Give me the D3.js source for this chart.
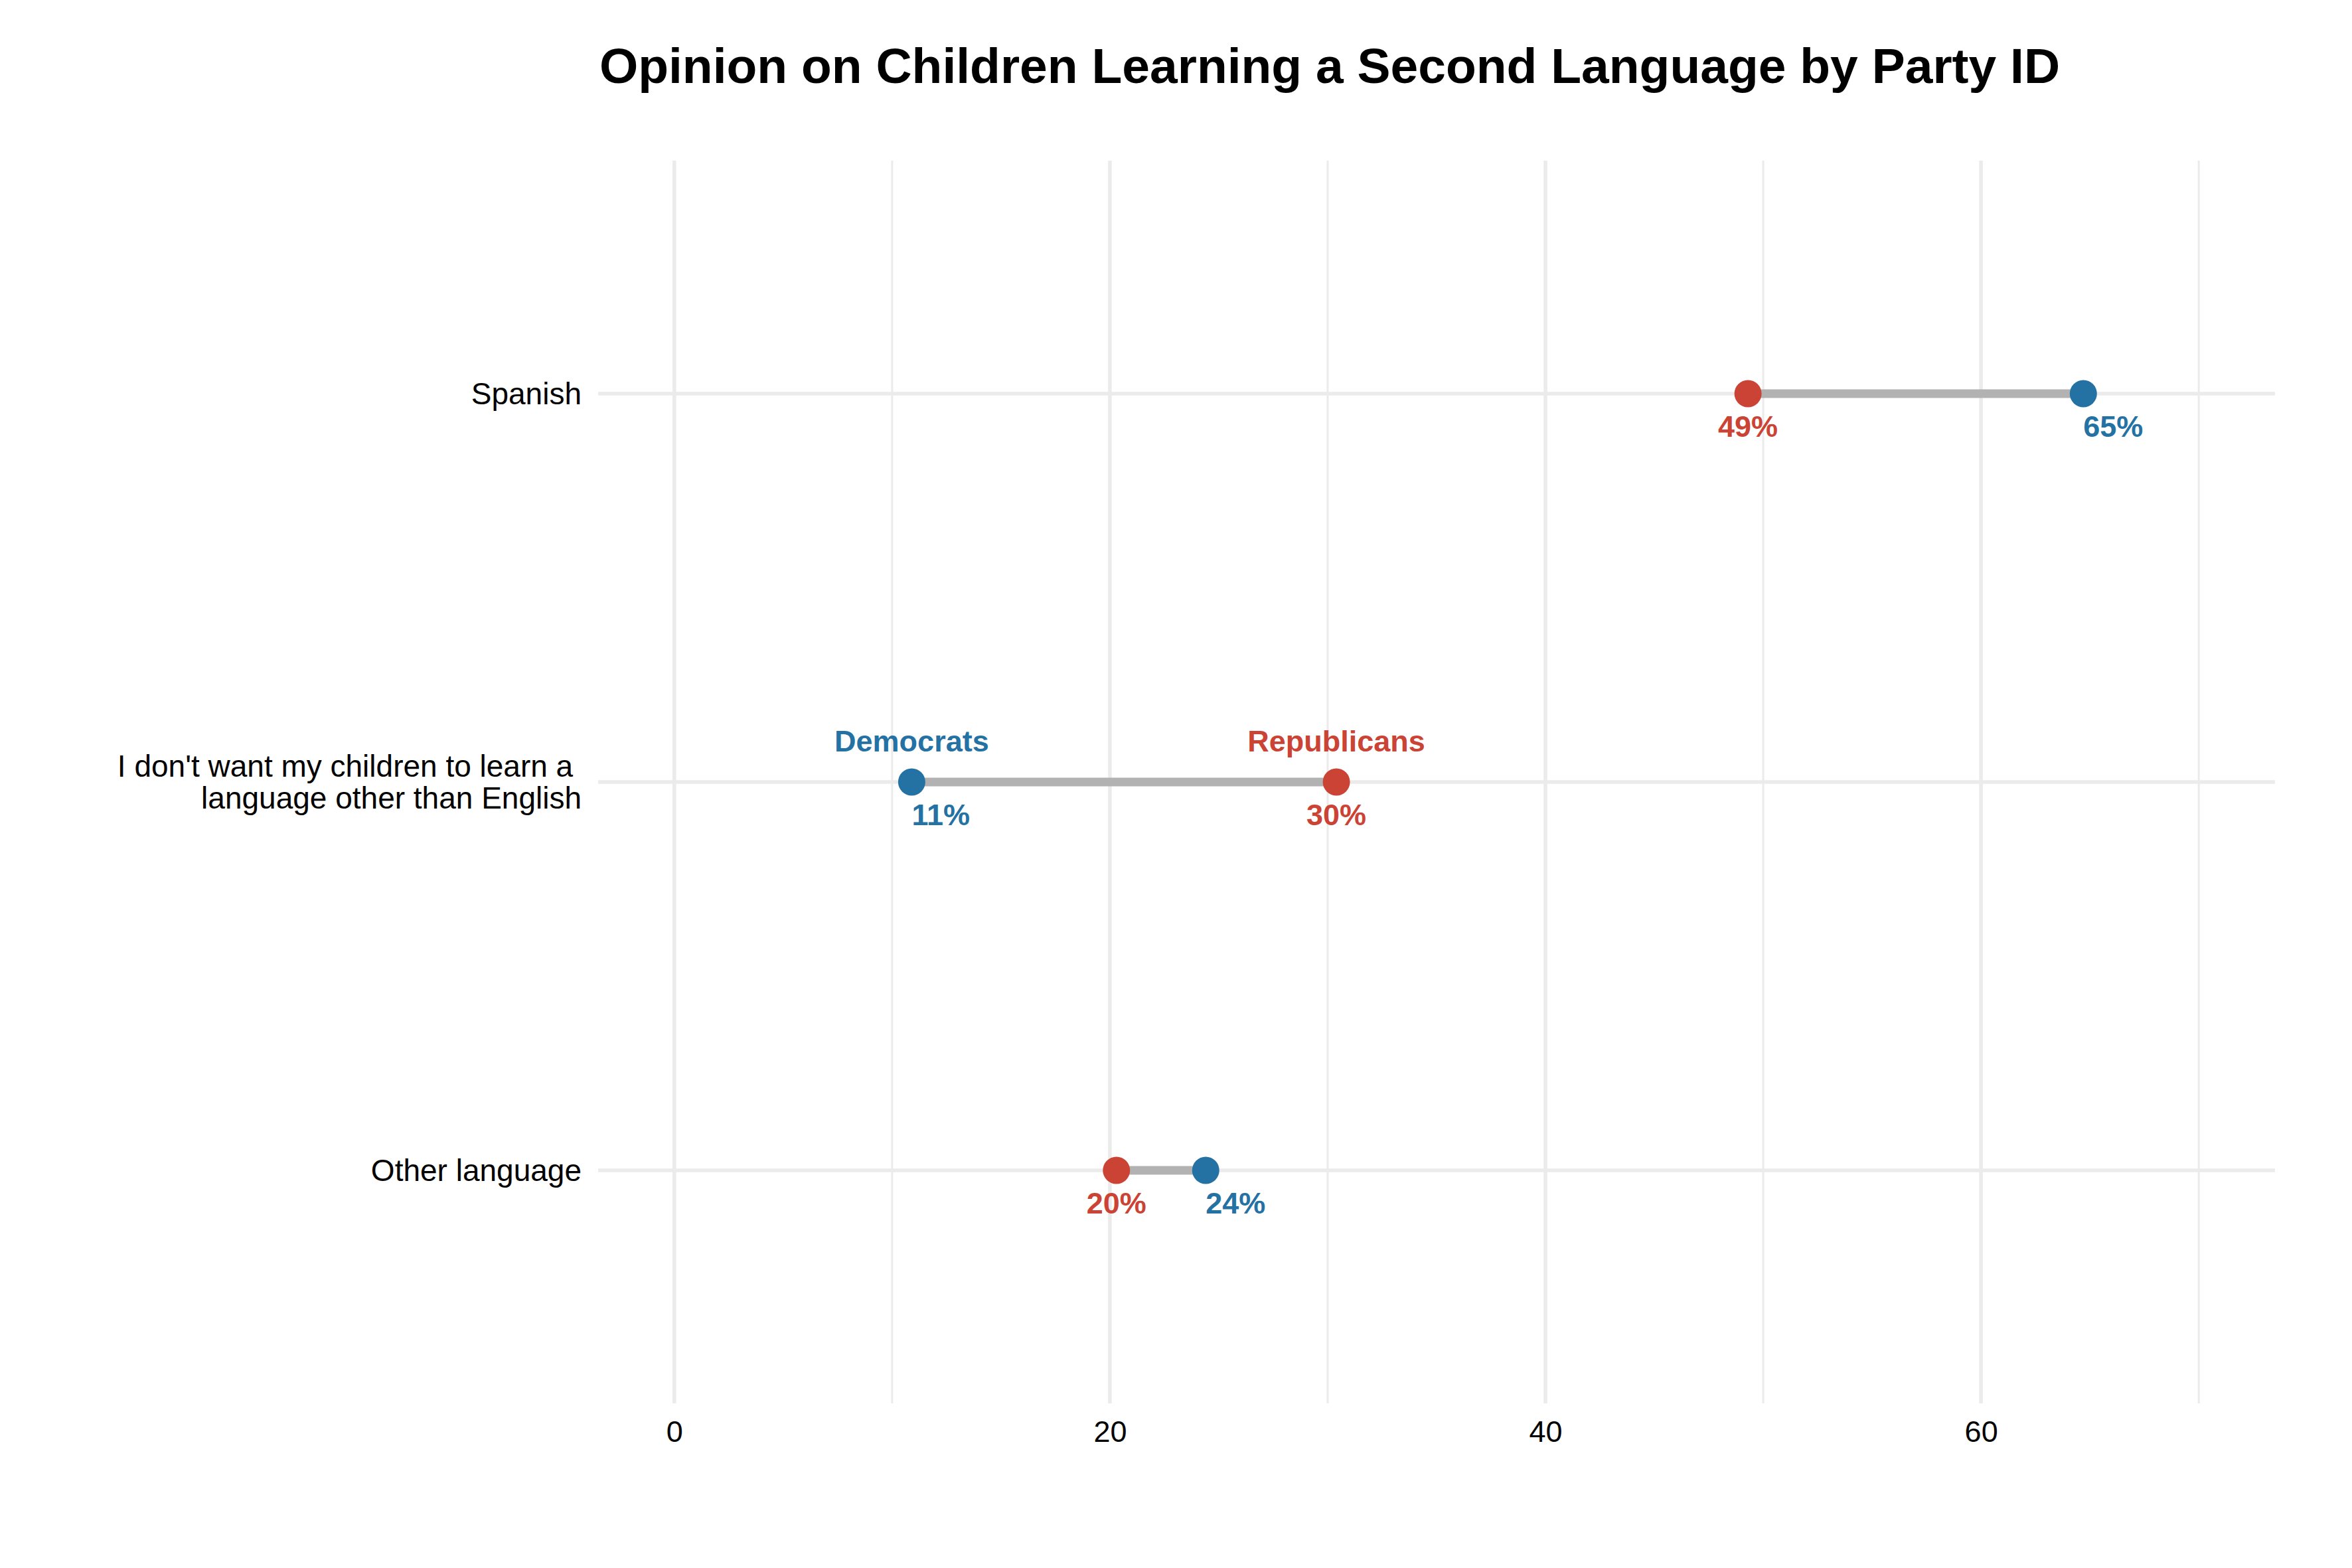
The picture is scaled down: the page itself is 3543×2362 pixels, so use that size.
<!DOCTYPE html>
<html>
<head>
<meta charset="utf-8">
<script src="https://cdn.jsdelivr.net/npm/d3@7"></script>
<style>
    body { margin: 0; background: #ffffff; }
    text { font-family: "Liberation Sans", Arial, Helvetica, sans-serif; }
</style>
</head>
<body>
<div id="chart"></div>
<script>
// --- Data ---
var categories = [
    "Spanish",
    "I don't want my children to learn a |language other than English",
    "Other language"
];
var republicans = [49.3, 30.4, 20.3];
var democrats = [64.7, 10.9, 24.4];
var xTicks = [0, 20, 40, 60];
var xMinorTicks = [10, 30, 50, 70];

var W = 3543, H = 2362;
var red = "#CB4335", blue = "#2471A3";

var svg = d3.select("#chart")
    .append("svg")
    .attr("width", W)
    .attr("height", H);

// --- Scales ---
var xScale = d3.scaleLinear()
    .domain([-3.5, 73.5])
    .range([901, 3427]);

var yScale = d3.scalePoint()
    .domain(categories)
    .range([242, 2114])
    .padding(0.6);

// --- Grid ---
var grid = svg.append("g");

grid.selectAll(".minor")
    .data(xMinorTicks)
    .enter().append("line")
    .attr("x1", d => xScale(d)).attr("x2", d => xScale(d))
    .attr("y1", 242).attr("y2", 2114)
    .attr("stroke", "#EBEBEB")
    .attr("stroke-width", 3);

grid.selectAll(".major")
    .data(xTicks)
    .enter().append("line")
    .attr("x1", d => xScale(d)).attr("x2", d => xScale(d))
    .attr("y1", 242).attr("y2", 2114)
    .attr("stroke", "#EBEBEB")
    .attr("stroke-width", 5.5);

grid.selectAll(".hline")
    .data(categories)
    .enter().append("line")
    .attr("x1", 901).attr("x2", 3427)
    .attr("y1", d => yScale(d)).attr("y2", d => yScale(d))
    .attr("stroke", "#EBEBEB")
    .attr("stroke-width", 5.5);

// --- Axes ---
var xAxis = svg.append("g")
    .attr("transform", "translate(0,2114)")
    .call(d3.axisBottom(xScale).tickValues(xTicks).tickSize(0).tickPadding(26));
xAxis.select(".domain").remove();
xAxis.selectAll("text")
    .style("font-size", "45px")
    .style("fill", "#000000");

var yAxis = svg.append("g");
yAxis.selectAll("text")
    .data(categories)
    .enter().append("text")
    .attr("text-anchor", "end")
    .style("font-size", "46px")
    .style("fill", "#000000")
    .style("white-space", "pre")
    .each(function (d) {
        var lines = d.split("|");
        var t = d3.select(this);
        var lh = 48;
        var y0 = yScale(d) - (lines.length - 1) * lh / 2 + 16;
        lines.forEach((line, i) => {
            t.append("tspan")
                .attr("x", 876)
                .attr("y", y0 + i * lh)
                .text(line);
        });
    });

// --- Segments ---
var rows = categories.map((c, i) => ({ cat: c, rep: republicans[i], dem: democrats[i] }));

svg.append("g")
    .selectAll("line")
    .data(rows)
    .enter().append("line")
    .attr("x1", d => xScale(d.rep))
    .attr("x2", d => xScale(d.dem))
    .attr("y1", d => yScale(d.cat))
    .attr("y2", d => yScale(d.cat))
    .attr("stroke", "#B2B2B2")
    .attr("stroke-width", 13);

// --- Points ---
var pts = svg.append("g");
pts.selectAll(".rep")
    .data(rows)
    .enter().append("circle")
    .attr("cx", d => xScale(d.rep))
    .attr("cy", d => yScale(d.cat))
    .attr("r", 20.5)
    .attr("fill", red);

pts.selectAll(".dem")
    .data(rows)
    .enter().append("circle")
    .attr("cx", d => xScale(d.dem))
    .attr("cy", d => yScale(d.cat))
    .attr("r", 20.5)
    .attr("fill", blue);

// --- Value labels ---
var lab = svg.append("g")
    .style("font-size", "45px")
    .style("font-weight", "bold");

lab.selectAll(".repLab")
    .data(rows)
    .enter().append("text")
    .attr("x", d => xScale(d.rep))
    .attr("y", d => yScale(d.cat) + 65)
    .attr("text-anchor", "middle")
    .style("fill", red)
    .text(d => Math.round(d.rep) + "%");

lab.selectAll(".demLab")
    .data(rows)
    .enter().append("text")
    .attr("x", d => xScale(d.dem))
    .attr("y", d => yScale(d.cat) + 65)
    .attr("text-anchor", "start")
    .style("fill", blue)
    .text(d => Math.round(d.dem) + "%");

// --- Party labels on the middle row ---
var mid = rows[1];
lab.append("text")
    .attr("x", xScale(mid.dem))
    .attr("y", yScale(mid.cat) - 46)
    .attr("text-anchor", "middle")
    .style("fill", blue)
    .text("Democrats");

lab.append("text")
    .attr("x", xScale(mid.rep))
    .attr("y", yScale(mid.cat) - 46)
    .attr("text-anchor", "middle")
    .style("fill", red)
    .text("Republicans");

// --- Title ---
svg.append("text")
    .attr("x", 2003)
    .attr("y", 125)
    .attr("text-anchor", "middle")
    .style("font-size", "75px")
    .style("font-weight", "bold")
    .style("fill", "#000000")
    .text("Opinion on Children Learning a Second Language by Party ID");
</script>
</body>
</html>
